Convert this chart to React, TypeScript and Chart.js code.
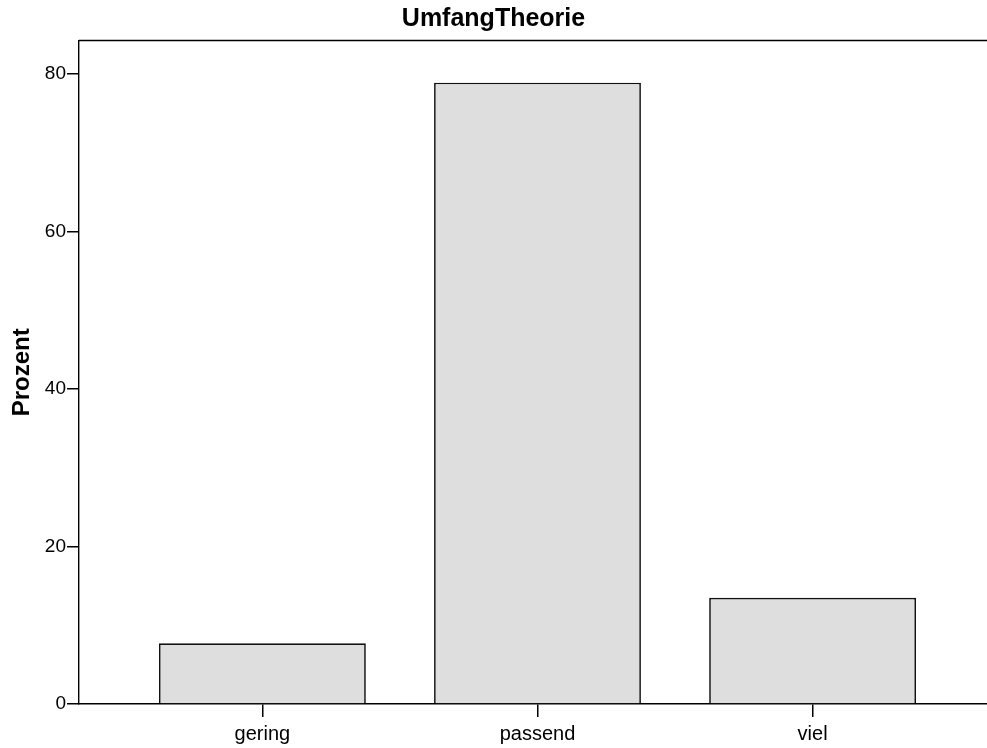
import React, { useEffect, useRef } from "react";
import { Chart, registerables } from "chart.js";

Chart.register(...registerables);

const chartTitle = "UmfangTheorie";
const yAxisTitle = "Prozent";
const categories = ["gering", "passend", "viel"];
const percentValues = [7.7, 78.9, 13.5];
const yTickValues = [0, 20, 40, 60, 80];

const FONT = "'Liberation Sans', Arial, Helvetica, sans-serif";

const topBorderPlugin = {
  id: "topBorder",
  afterDraw(chart: any) {
    const { ctx, chartArea } = chart;
    ctx.save();
    ctx.strokeStyle = "#000";
    ctx.lineWidth = 1.4;
    ctx.beginPath();
    ctx.moveTo(chartArea.left, chartArea.top);
    ctx.lineTo(chartArea.right, chartArea.top);
    ctx.stroke();
    ctx.restore();
  },
};

export default function App() {
  const ref = useRef<HTMLCanvasElement | null>(null);

  useEffect(() => {
    if (!ref.current) return;
    const points = categories.map((_, i) => ({ x: i + 1, y: percentValues[i] }));
    const chart = new Chart(ref.current, {
      type: "bar",
      data: {
        datasets: [
          {
            data: points as any,
            backgroundColor: "#dedede",
            borderColor: "#111",
            borderWidth: 1.7,
            barPercentage: 0.752,
            categoryPercentage: 1,
          },
        ],
      },
      plugins: [topBorderPlugin],
      options: {
        animation: false,
        responsive: false,
        layout: { padding: 0 },
        plugins: {
          legend: { display: false },
          tooltip: { enabled: false },
          title: {
            display: true,
            text: chartTitle,
            color: "#000",
            font: { family: FONT, size: 25, weight: "bold", lineHeight: 1.2 },
            padding: { top: 4, bottom: 6.5 },
          },
        },
        scales: {
          x: {
            type: "linear",
            offset: false,
            min: 1 / 3,
            max: 3.634,
            afterBuildTicks: (scale: any) => {
              scale.ticks = categories.map((_, i) => ({ value: i + 1 }));
            },
            afterFit: (scale: any) => {
              scale.height = 44;
            },
            ticks: {
              color: "#000",
              font: { family: FONT, size: 20 },
              padding: 5,
              maxRotation: 0,
              autoSkip: false,
              callback: (v: any) => categories[Math.round(Number(v)) - 1] ?? "",
            },
            grid: {
              offset: false,
              drawOnChartArea: false,
              color: "#000",
              tickLength: 13,
              lineWidth: 1.5,
            },
            border: { display: true, color: "#000", width: 1.4 },
          },
          y: {
            type: "linear",
            min: 0,
            max: 84.25,
            afterBuildTicks: (scale: any) => {
              scale.ticks = yTickValues.map((v) => ({ value: v }));
            },
            afterFit: (scale: any) => {
              scale.width = 79;
            },
            ticks: {
              color: "#000",
              font: { family: FONT, size: 19 },
              padding: 1,
            },
            grid: {
              drawOnChartArea: false,
              color: "#000",
              tickLength: 12,
              lineWidth: 1.5,
            },
            border: { display: true, color: "#000", width: 1.4 },
            title: {
              display: true,
              text: yAxisTitle,
              color: "#000",
              font: { family: FONT, size: 24, weight: "bold", lineHeight: 1.2 },
              padding: { top: 8, bottom: 0 },
            },
          },
        },
      },
    });
    return () => chart.destroy();
  }, []);

  return (
    <div style={{ position: "absolute", left: 0, top: 0, width: 987, height: 748, background: "#fff" }}>
      <canvas ref={ref} width={987} height={748} style={{ width: 987, height: 748, display: "block" }} />
    </div>
  );
}
